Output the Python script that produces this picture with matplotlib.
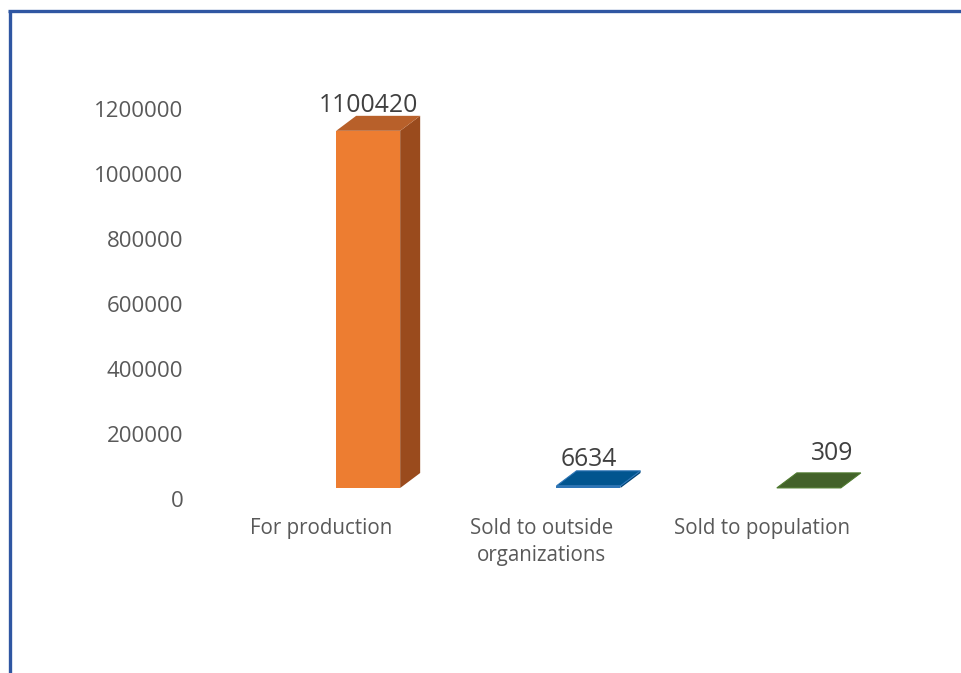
import matplotlib

matplotlib.use("Agg")
import matplotlib.pyplot as plt
from matplotlib.patches import Polygon, Rectangle

categories = ["For production", "Sold to outside\norganizations", "Sold to population"]
values = [1100420, 6634, 309]
front_colors = ["#ED7D31", "#2E75B6", "#4E7A2E"]
top_colors = ["#B8602A", "#01558F", "#43622A"]
side_colors = ["#9A4B1D", "#014272", "#354E21"]
yticks = [0, 200000, 400000, 600000, 800000, 1000000, 1200000]

plt.rcParams["font.family"] = ["Open Sans", "DejaVu Sans"]

DPI = 100
fig = plt.figure(figsize=(9.61, 6.73), dpi=DPI)
ax = fig.add_axes([211 / 961, (673 - 499) / 673, 661 / 961, 389.5 / 673])
ax.set_xlim(-0.5, 2.5)
ax.set_ylim(0, 1200000)

# pixel -> data conversions
px_x = 3.0 / 661
px_y = 1200000 / 389.5

# bars sit right of / above the category position (Excel 3D look)
shift_x, shift_y = 47 * px_x, 11 * px_y
dep_x, dep_y = 20 * px_x, 15 * px_y
w = 64 * px_x

for i, (v, fc, tc, sc) in enumerate(zip(values, front_colors, top_colors, side_colors)):
    x0 = i + shift_x - w / 2
    x1 = x0 + w
    y0 = shift_y
    y1 = y0 + v
    # side face
    ax.add_patch(Polygon([(x1, y0), (x1 + dep_x, y0 + dep_y), (x1 + dep_x, y1 + dep_y), (x1, y1)],
                         closed=True, facecolor=sc, edgecolor="none", clip_on=False))
    # front face
    ax.add_patch(Rectangle((x0, y0), w, v, facecolor=fc, edgecolor="none", clip_on=False))
    # top face
    ax.add_patch(Polygon([(x0, y1), (x1, y1), (x1 + dep_x, y1 + dep_y), (x0 + dep_x, y1 + dep_y)],
                         closed=True, facecolor=tc, edgecolor=fc if v < 50000 else "none",
                         linewidth=0.8, clip_on=False))

# data labels (baseline placed a few px above the back edge of the top face)
label_dx = [0, 0, 23]
label_dy = [3.5, 5, 13]
for i, v in enumerate(values):
    x = i + shift_x + label_dx[i] * px_x
    y = shift_y + v + dep_y + label_dy[i] * px_y
    ax.text(x, y, f"{v}", ha="center", va="baseline", fontsize=17.8, color="#404040")

ax.set_yticks(yticks)
ax.set_yticklabels([str(t) for t in yticks], fontsize=16, color="#595959")
ax.set_xticks(range(len(categories)))
ax.set_xticklabels(categories, fontsize=14.8, color="#595959", linespacing=1.4)
ax.tick_params(axis="y", length=0, pad=20)
ax.tick_params(axis="x", length=0, pad=13.5)
for s in ax.spines.values():
    s.set_visible(False)
ax.set_facecolor("none")

# blue frame lines along left and top
top_y = (673 - 11) / 673
fig.add_artist(plt.Line2D([9.5 / 961, 9.5 / 961], [0, top_y],
                          transform=fig.transFigure, color="#2F56A2", linewidth=2.4,
                          solid_capstyle="butt"))
fig.add_artist(plt.Line2D([8.3 / 961, 1], [top_y, top_y],
                          transform=fig.transFigure, color="#2F56A2", linewidth=2.4,
                          solid_capstyle="butt"))

fig.savefig("out.png", dpi=DPI)
